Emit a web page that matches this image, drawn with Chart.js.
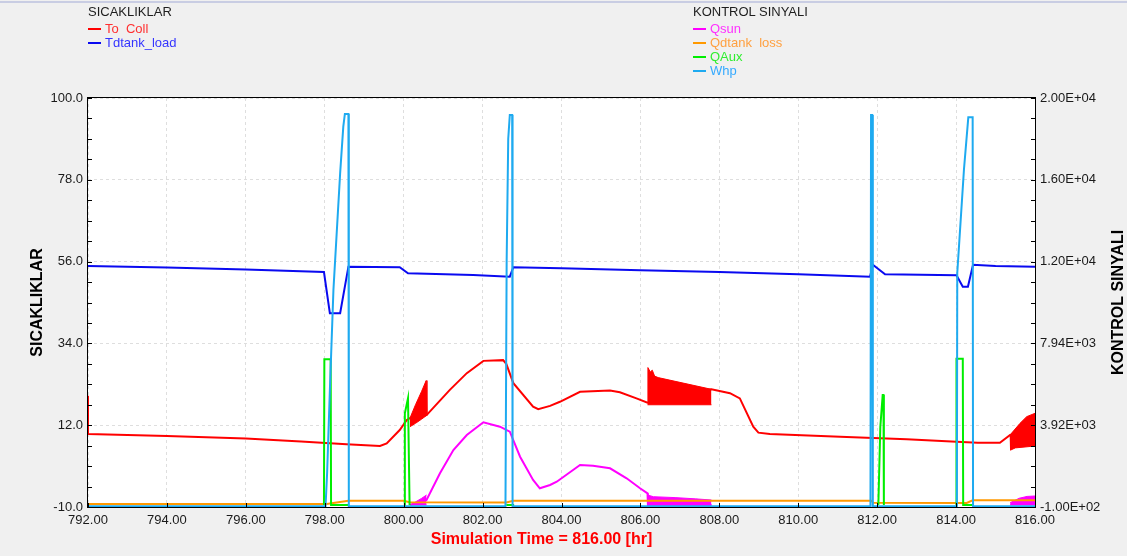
<!DOCTYPE html>
<html>
<head>
<meta charset="utf-8">
<script src="https://cdn.jsdelivr.net/npm/chart.js@4.4.0/dist/chart.umd.min.js"></script>
<style>
  html, body { margin: 0; padding: 0; background: #f0f0f0; }
  #wrap { position: relative; width: 1127px; height: 556px; font-family: "Liberation Sans", Arial, sans-serif; }
  canvas { position: absolute; left: 0; top: 0; }
  .legTitle { position: absolute; font-size: 13px; line-height: 14px; color: #1e1e1e; white-space: pre; }
  .legRow { position: absolute; font-size: 13px; line-height: 14px; white-space: pre; }
  .legRow i { position: absolute; left: 0; top: 6px; width: 13px; height: 2px; }
  .legRow span { position: absolute; left: 17px; top: 0; }
</style>
</head>
<body>
<div id="wrap"><canvas id="chart" width="1127" height="556"></canvas></div>
<script>
// axis ticks
const hourTicks = [792, 794, 796, 798, 800, 802, 804, 806, 808, 810, 812, 814, 816]
const leftMajor = [-10, 12, 34, 56, 78, 100]
const rightMajor = [-100, 3920, 7940, 11960, 15980, 20000]

const leftTitle = 'SICAKLIKLAR'
const rightTitle = 'KONTROL SINYALI'
const xTitle = 'Simulation Time = 816.00 [hr]'

// SICAKLIKLAR (left axis) - [hr, value]
const toColl = [[792, 19.9], [792, 9.6], [794, 9.1], [796, 8.4], [797.4, 7.6], [798.55, 6.9], [799.4, 6.4],
  [799.57, 7.1], [799.9, 10.7], [800.08, 13.4], [800.16, 13.9], [800.58, 14.7], [801.17, 21.5], [801.6, 26.0],
  [802.02, 29.3], [802.52, 29.5], [802.6, 28.5], [802.78, 23.3], [803.28, 17.0], [803.41, 16.3], [803.71, 17.2],
  [803.96, 18.3], [804.47, 21.0], [805.23, 21.3], [805.48, 20.85], [805.9, 19.2], [806.18, 18.05], [807.8, 21.65],
  [808.27, 20.6], [808.52, 19.2], [808.86, 11.6], [808.99, 10.0], [809.28, 9.63], [811.06, 8.9], [812.75, 8.2],
  [814.01, 7.56], [814.55, 7.3], [815.11, 7.3], [815.37, 9.4], [816, 10.5]]
// oscillating parts of To_Coll, lower and upper envelope
const toCollBand1Low = [[800.16, 11.6], [800.3, 12.5], [800.45, 13.6], [800.59, 14.7]]
const toCollBand1High = [[800.16, 13.9], [800.3, 17.5], [800.45, 21.0], [800.57, 24.0], [800.59, 14.7]]
const toCollBand2Low = [[806.18, 17.5], [807.8, 17.5]]
const toCollBand2High = [[806.18, 18.05], [806.19, 27.5], [806.25, 26.3], [806.3, 26.8], [806.36, 25.2], [806.45, 24.8], [807.8, 21.65]]
const toCollBand3Low = [[815.37, 9.4], [815.38, 5.3], [815.5, 5.9], [816, 6.4]]
const toCollBand3High = [[815.37, 9.4], [815.62, 12.5], [815.79, 14.3], [816, 15.2]]

const tdtankLoad = [[792, 54.8], [794, 54.4], [796, 53.9], [797.98, 53.2], [798.13, 42.1], [798.39, 42.1],
  [798.6, 54.63], [799.9, 54.5], [800.11, 52.86], [801.76, 52.4], [802.69, 51.94], [802.78, 54.5], [804, 54.2],
  [806, 53.7], [808, 53.2], [810, 52.6], [811.82, 51.94], [811.89, 55.17], [812.2, 52.59], [814.01, 52.32],
  [814.17, 49.25], [814.3, 49.25], [814.43, 55.17], [815, 54.8], [816, 54.6]]

// KONTROL SINYALI (right axis)
const qsun = [[800.15, 0], [800.58, 244], [800.92, 1556], [801.26, 2701], [801.6, 3438], [802.02, 4063],
  [802.44, 3846], [802.69, 3601], [802.95, 2372], [803.28, 1227], [803.45, 819], [803.71, 981], [803.88, 1143],
  [804.47, 1964], [804.8, 1930], [805.23, 1802], [805.65, 1310], [805.99, 819], [806.18, 573], [806.19, 0], [807.8, 0]]
const qsunBand1Low = [[800.17, 0], [800.58, 0]]
const qsunBand1High = [[800.17, 0], [800.3, 150], [800.45, 320], [800.58, 490]]
const qsunBand2Low = [[806.18, 0], [807.8, 0]]
const qsunBand2High = [[806.18, 490], [806.33, 406], [806.9, 360], [807.4, 300], [807.8, 244]]
const qsunBand3Low = [[815.37, 0], [816, 0]]
const qsunBand3High = [[815.37, 111], [815.6, 330], [815.8, 420], [816, 440]]

const qdtankLoss = [[792, 50], [798.05, 50], [798.3, 120], [798.6, 210], [800.0, 210], [800.15, 130], [802.6, 120],
  [802.78, 210], [811.85, 210], [811.9, 111], [814.27, 100], [814.42, 230], [816, 230]]

const qaux = [[797.98, 0], [797.99, 7159], [798.15, 7159], [798.16, 0], [798.6, 0], [798.6, null],
  [800.01, 0], [800.03, 4500], [800.11, 5242], [800.13, 5242], [800.15, 0], [800.15, null],
  [802.6, 0], [802.8, 0], [802.8, null],
  [812.03, 0], [812.08, 3846], [812.14, 5404], [812.16, 5404], [812.17, 0], [812.17, null],
  [814.0, 0], [814.01, 7190], [814.17, 7190], [814.18, 0], [814.42, 0]]

const whp = [[792, -60], [798.02, -60], [798.06, 1570], [798.13, 5650], [798.22, 10565], [798.39, 16300],
  [798.47, 18590], [798.51, 19214], [798.6, 19214], [798.61, -60], [802.58, -60], [802.61, 12000],
  [802.65, 18000], [802.69, 19164], [802.75, 19164], [802.76, -60], [811.83, -60], [811.845, 19164],
  [811.875, 19164], [811.89, -60], [814.02, -60], [814.03, 11400], [814.2, 16500], [814.31, 19050],
  [814.42, 19050], [814.43, -60], [816, -60]]

const RED = '#ff0000'
const BLUE = '#0a0af0'
const MAGENTA = '#ff00ff'
const ORANGE = '#ff9900'
const GREEN = '#00ee00'
const SKY = '#1eaaf0'

const leftLegend = [['To  Coll', RED, '#ff3030'], ['Tdtank_load', BLUE, '#3535ff']]
const rightLegend = [['Qsun', MAGENTA, '#ff30ff'], ['Qdtank  loss', ORANGE, '#ffa040'], ['QAux', GREEN, '#30ee30'], ['Whp', SKY, '#35aaff']]

function buildLegend (left, title, rows) {
  const wrap = document.getElementById('wrap')
  const t = document.createElement('div')
  t.className = 'legTitle'
  t.style.left = left + 'px'
  t.style.top = '5px'
  t.textContent = title
  wrap.appendChild(t)
  rows.forEach((r, i) => {
    const d = document.createElement('div')
    d.className = 'legRow'
    d.style.left = left + 'px'
    d.style.top = (21.5 + i * 14) + 'px'
    d.innerHTML = '<i style="background:' + r[1] + '"></i><span style="color:' + r[2] + '"></span>'
    d.querySelector('span').textContent = r[0]
    wrap.appendChild(d)
  })
}
buildLegend(88, leftTitle, leftLegend)
buildLegend(693, rightTitle, rightLegend)

function minorTicks (major) {
  const out = []
  for (let i = 0; i < major.length - 1; i++) {
    const step = (major[i + 1] - major[i]) / 4
    for (let k = 0; k < 4; k++) out.push(major[i] + step * k)
  }
  out.push(major[major.length - 1])
  return out
}

function sci (v) {
  const [m, e] = v.toExponential(2).split('e')
  const n = parseInt(e)
  return m + 'E' + (n < 0 ? '-' : '+') + String(Math.abs(n)).padStart(2, '0')
}

function line (arr, color, axis, order, extra) {
  return Object.assign({
    data: arr.map(([x, y]) => ({ x: x, y: y })),
    borderColor: color,
    backgroundColor: color,
    borderWidth: 2,
    pointRadius: 0,
    yAxisID: axis,
    order: order,
    fill: false,
    tension: 0,
    spanGaps: false
  }, extra || {})
}

const datasets = [
  line(whp, SKY, 'y1', 0, { label: 'Whp' }),
  line(qaux, GREEN, 'y1', 1, { label: 'QAux' }),
  line(qdtankLoss, ORANGE, 'y1', 2, { label: 'Qdtank loss' }),
  line(qsun, MAGENTA, 'y1', 3, { label: 'Qsun' }),
  line(qsunBand1Low, MAGENTA, 'y1', 3, { borderWidth: 1 }),
  line(qsunBand1High, MAGENTA, 'y1', 3, { borderWidth: 1, fill: '-1' }),
  line(qsunBand2Low, MAGENTA, 'y1', 3, { borderWidth: 1 }),
  line(qsunBand2High, MAGENTA, 'y1', 3, { borderWidth: 1, fill: '-1' }),
  line(qsunBand3Low, MAGENTA, 'y1', 3, { borderWidth: 1 }),
  line(qsunBand3High, MAGENTA, 'y1', 3, { borderWidth: 1, fill: '-1' }),
  line(toColl, RED, 'y', 4, { label: 'To_Coll' }),
  line(toCollBand1Low, RED, 'y', 4, { borderWidth: 1 }),
  line(toCollBand1High, RED, 'y', 4, { borderWidth: 1, fill: '-1' }),
  line(toCollBand2Low, RED, 'y', 4, { borderWidth: 1 }),
  line(toCollBand2High, RED, 'y', 4, { borderWidth: 1, fill: '-1' }),
  line(toCollBand3Low, RED, 'y', 4, { borderWidth: 1 }),
  line(toCollBand3High, RED, 'y', 4, { borderWidth: 1, fill: '-1' }),
  line(tdtankLoad, BLUE, 'y', 5, { label: 'Tdtank_load' })
]

const frame = {
  id: 'frame',
  beforeDraw (chart) {
    const { ctx, chartArea: a } = chart
    ctx.save()
    ctx.fillStyle = '#f0f0f0'
    ctx.fillRect(0, 0, chart.width, chart.height)
    ctx.fillStyle = '#c9cde3'
    ctx.fillRect(0, 1, chart.width, 2)
    ctx.fillStyle = '#ffffff'
    ctx.fillRect(a.left, a.top, a.right - a.left, a.bottom - a.top)
    ctx.restore()
  },
  afterDraw (chart) {
    const { ctx, chartArea: a, scales } = chart
    ctx.save()
    ctx.strokeStyle = '#000'
    ctx.lineWidth = 1
    ctx.strokeRect(a.left - 0.5, a.top - 0.5, a.right - a.left + 1, a.bottom - a.top + 1)
    ctx.beginPath()
    scales.y.ticks.forEach(t => {
      const p = Math.round(scales.y.getPixelForValue(t.value)) + 0.5
      ctx.moveTo(a.left, p); ctx.lineTo(a.left + 4, p)
    })
    scales.y1.ticks.forEach(t => {
      const p = Math.round(scales.y1.getPixelForValue(t.value)) + 0.5
      ctx.moveTo(a.right, p); ctx.lineTo(a.right - 4, p)
    })
    scales.x.ticks.forEach(t => {
      const p = Math.round(scales.x.getPixelForValue(t.value)) + 0.5
      ctx.moveTo(p, a.bottom); ctx.lineTo(p, a.bottom - 4)
    })
    ctx.stroke()

    const midY = (a.top + a.bottom) / 2
    ctx.font = 'bold 16px "Liberation Sans", Arial, sans-serif'
    ctx.textAlign = 'center'
    ctx.textBaseline = 'middle'
    ctx.fillStyle = '#000'
    ctx.save(); ctx.translate(38, midY); ctx.rotate(-Math.PI / 2); ctx.fillText(leftTitle, 0, 0); ctx.restore()
    ctx.save(); ctx.translate(chart.width - 8, midY); ctx.rotate(-Math.PI / 2); ctx.fillText(rightTitle, 0, 0); ctx.restore()
    ctx.fillStyle = '#ff0000'
    ctx.fillText(xTitle, (a.left + a.right) / 2 - 20, 540)
    ctx.restore()
  }
}

Chart.defaults.font.family = '"Liberation Sans", Arial, sans-serif'
Chart.defaults.font.size = 13
Chart.defaults.color = '#1a1a1a'

new Chart(document.getElementById('chart'), {
  type: 'line',
  data: { datasets: datasets },
  plugins: [frame],
  options: {
    responsive: false,
    devicePixelRatio: 1,
    animation: false,
    layout: { padding: { top: 98, left: 0, right: 0, bottom: 0 } },
    plugins: { legend: { display: false }, tooltip: { enabled: false } },
    scales: {
      x: {
        type: 'linear',
        min: 792,
        max: 816,
        afterFit: s => { s.height = 49 },
        afterBuildTicks: s => { s.ticks = hourTicks.map(v => ({ value: v })) },
        ticks: { callback: v => v.toFixed(2), autoSkip: false, maxRotation: 0, padding: 6 },
        grid: { color: '#dedede', drawTicks: false },
        border: { display: false, dash: [3, 3] }
      },
      y: {
        position: 'left',
        min: -10,
        max: 100,
        afterFit: s => { s.width = 88 },
        afterBuildTicks: s => { s.ticks = minorTicks(leftMajor).map(v => ({ value: v })) },
        ticks: { callback: (v, i) => i % 4 === 0 ? v.toFixed(1) : '', autoSkip: false, padding: 5 },
        grid: { color: c => c.index % 4 === 0 ? '#dedede' : 'rgba(0,0,0,0)', drawTicks: false },
        border: { display: false, dash: [3, 3] }
      },
      y1: {
        position: 'right',
        min: -100,
        max: 20000,
        afterFit: s => { s.width = 92 },
        afterBuildTicks: s => { s.ticks = minorTicks(rightMajor).map(v => ({ value: v })) },
        ticks: { callback: (v, i) => i % 4 === 0 ? sci(v) : '', autoSkip: false, padding: 5 },
        grid: { drawOnChartArea: false, drawTicks: false },
        border: { display: false }
      }
    }
  }
})
</script>
</body>
</html>
